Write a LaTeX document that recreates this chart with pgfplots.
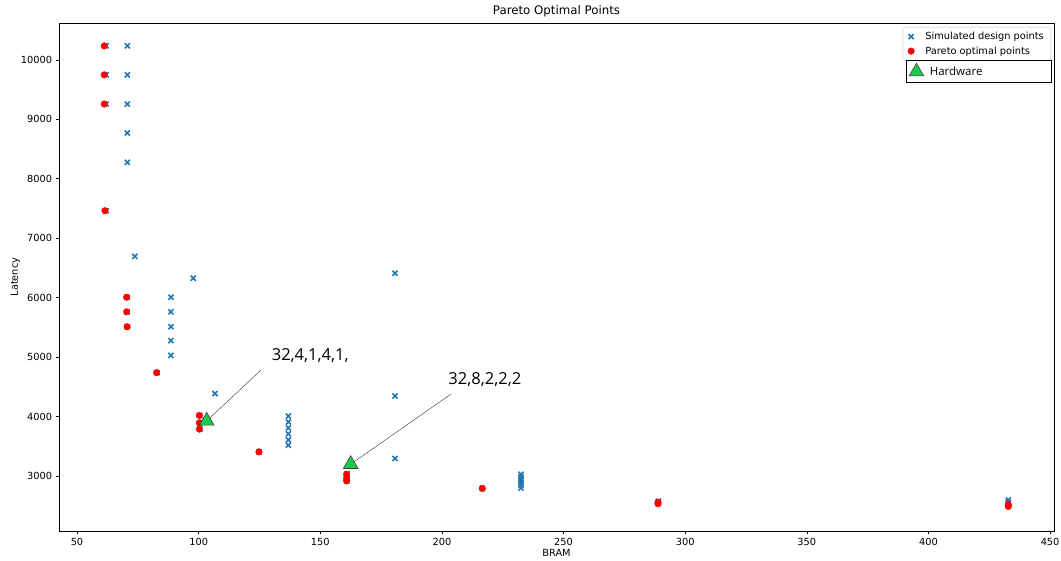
\documentclass[border=0pt]{standalone}
\usepackage{fontspec}
\setmainfont{DejaVu Sans}
\newfontfamily\annfont{Open Sans}
\usepackage{pgfplots}
\pgfplotsset{compat=1.18}
\definecolor{mblue}{HTML}{1F77B4}
\definecolor{mgreen}{RGB}{30,200,75}
\begin{document}
\begin{tikzpicture}
\begin{axis}[name=ax, scale only axis, width=995pt, height=508pt,
  xmin=42.6, xmax=451.6, ymin=2077, ymax=10620,
  xtick={50,100,...,450}, ytick={3000,4000,...,10000},
  scaled y ticks=false, scaled x ticks=false,
  xtick pos=left, ytick pos=left, tick align=outside,
  major tick length=3.4pt,
  every tick/.style={black, line width=0.6pt},
  axis line style={line width=0.6pt},
  /pgf/number format/1000 sep={}, /pgf/number format/assume math mode=true,
  tick label style={font=\fontsize{9.8}{11}\selectfont},
  label style={font=\fontsize{9.8}{11}\selectfont},
  title style={font=\fontsize{11.8}{13}\selectfont, yshift=-3pt},
  title={Pareto Optimal Points}, xlabel={BRAM}, ylabel={Latency},
  xlabel style={yshift=3pt}, ylabel style={yshift=-6pt},
  legend style={at={(1,1)}, anchor=north east, xshift=-3pt, yshift=-4pt,
    draw=gray!45, rounded corners=2pt, font=\fontsize{9.8}{11}\selectfont,
    inner xsep=5pt, inner ysep=3pt, row sep=1.5pt, cells={anchor=west},
    /tikz/column 1/.style={column sep=9pt}},
  legend image code/.code={\draw[#1] (0.3cm,0cm) -- plot coordinates {(0.3cm,0cm)};},
  legend cell align=left,
]
\addplot[only marks, mark=x, mark size=3.6pt, mblue, line width=1.6pt] coordinates {
(62,10235) (62,9748) (62,9257) (62,7463)
(70.7,10235) (70.7,9748) (70.7,9257) (70.7,8770) (70.7,8277)
(73.8,6696) (97.8,6327)
(70.6,6008) (70.6,5763) (70.6,5512)
(88.6,6008) (88.6,5763) (88.6,5512) (88.6,5277) (88.6,5030)
(82.9,4740) (106.7,4388)
(100.5,4020) (100.5,3895) (100.5,3790)
(124.8,3408)
(136.9,4010) (136.9,3910) (136.9,3810) (136.9,3710) (136.9,3610) (136.9,3520)
(180.7,6411) (180.7,4347) (180.7,3297)
(161,3040) (161,2960) (161,2920)
(216.6,2793)
(232.5,3030) (232.5,2985) (232.5,2940) (232.5,2895) (232.5,2850) (232.5,2800)
(289,2580) (289,2550)
(432.8,2597) (432.8,2560)
};
\addlegendentry{Simulated design points}
\addplot[only marks, mark=*, mark size=3.3pt, red, mark options={draw=red, fill=red}] coordinates {
(61.2,10235) (61.2,9748) (61.2,9257) (61.5,7463)
(70.4,6008) (70.4,5763) (70.6,5512)
(82.7,4740)
(100.3,4020) (100.3,3895) (100.3,3790)
(124.8,3408)
(160.8,3030) (160.8,2960) (160.8,2920)
(216.6,2793)
(288.8,2560) (288.8,2535)
(432.8,2525) (432.8,2490)
};
\addlegendentry{Pareto optimal points}
\draw[black!80, line width=0.4pt] (axis cs:125.5,4778) -- (axis cs:103.3,3928);
\draw[black!80, line width=0.4pt] (axis cs:203.6,4376) -- (axis cs:162.5,3200);
\node[anchor=base west, inner sep=0pt, font=\annfont\fontsize{16.5}{18}\selectfont] at (axis cs:130.0,4946) {32,4,1,4,1,};
\node[anchor=base west, inner sep=0pt, font=\annfont\fontsize{16.5}{18}\selectfont] at (axis cs:202.6,4544) {32,8,2,2,2};
\end{axis}
\begin{axis}[scale only axis, width=995pt, height=508pt,
  xmin=42.6, xmax=451.6, ymin=2077, ymax=10620, hide axis,
  legend style={at={(1,1)}, anchor=north east, xshift=-3pt, yshift=-37pt,
    draw=black, sharp corners, font=\annfont\fontsize{11.5}{13}\selectfont,
    inner xsep=3pt, inner ysep=3pt, cells={anchor=west},
    /tikz/column 1/.style={column sep=4pt}},
  legend image code/.code={\draw[#1] (0.25cm,0cm) -- plot coordinates {(0.25cm,0cm)};},
  legend cell align=left,
]
\addplot[only marks, mark=triangle*, mark size=8.5pt, mark options={fill=mgreen, draw=black!75, line width=0.6pt}] coordinates {
(103.3,3928) (162.5,3200)
};
\addlegendentry{\makebox[116pt][l]{Hardware}}
\end{axis}
\pgfresetboundingbox
\path ([shift={(-59pt,-30pt)}]ax.south west) rectangle ([shift={(7pt,23pt)}]ax.north east);
\end{tikzpicture}
\end{document}
